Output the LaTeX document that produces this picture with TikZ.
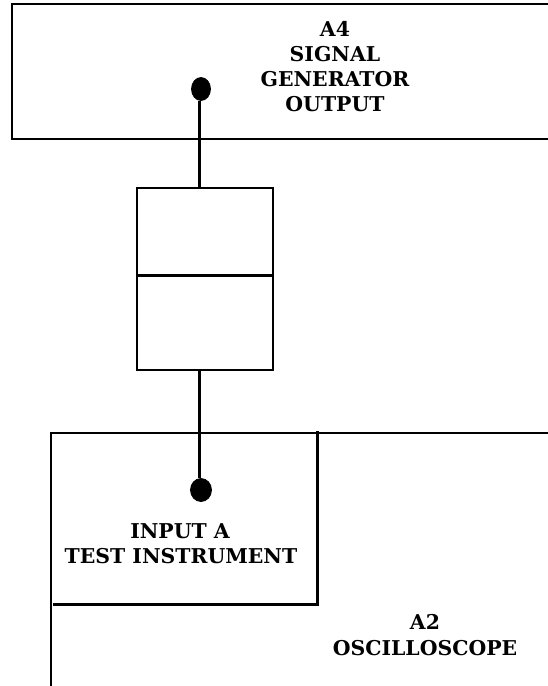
\documentclass[tikz,border=0pt]{standalone}
\usepackage{fontspec}
\setmainfont{DejaVu Serif}
\usetikzlibrary{shapes.geometric}
\begin{document}
\begin{tikzpicture}[x=1pt, y=-1pt, thick, font=\bfseries\fontsize{20.4}{20.4}\selectfont]
\tikzset{%
	panel/.style = {line width=1.2pt},
	wall/.style = {line width=3pt},
	con/.style = {line width=3pt},
	lbl/.style = {inner sep=0pt, align=center},
	jack/.style = {draw, fill=black, ellipse, inner sep=0pt, minimum width=19pt, minimum height=23pt},
	half/.style = {draw, rectangle, line width=1.2pt, minimum width=136pt, inner sep=0pt}
}
\useasboundingbox (0,0) rectangle (548,686);

% Signal generator
\coordinate (g1) at (548,4);
\coordinate (g2) at (548,139);
\draw[panel] (g1) -| (12,139) -- (g2);
\node at (335,29) [lbl] (t1) {A4};
\node at (335,54) [lbl] (t2) {SIGNAL};
\node at (335,79) [lbl] (t3) {GENERATOR};
\node at (335,104) [lbl] (t4) {OUTPUT};
\node at (201,89) [jack] (j1) {};

% Two halves of the inline box
\node at (205,231.5) [half, minimum height=87pt] (b1) {};
\node at (205,322.5) [half, minimum height=95pt] (b2) {};
\draw[con] (b1.south west) -- (b1.south east);

% Oscilloscope
\coordinate (o1) at (548,433);
\coordinate (o2) at (51,686);
\draw[panel] (o1) -| (o2);
\coordinate (w1) at (317,431);
\coordinate (w2) at (319,604);
\coordinate (w3) at (53,604);
\draw[wall] (w1) -- (317,604);
\draw[wall] (w2) -- (w3);
\node at (201,490) [jack, minimum width=21pt] (j2) {};
\node at (180,531) [lbl] (t5) {INPUT A};
\node at (181,556) [lbl] (t6) {TEST INSTRUMENT};
\node at (425,622) [lbl] (t7) {A2};
\node at (425,648) [lbl] (t8) {OSCILLOSCOPE};

\draw[con] ([xshift=-2pt]j1.south) -- ([xshift=-2pt]j1.south |- b1.north);
\draw[con] ([xshift=-2pt]j2.north |- b2.south) -- ([xshift=-2pt]j2.north);
\end{tikzpicture}
\end{document}
